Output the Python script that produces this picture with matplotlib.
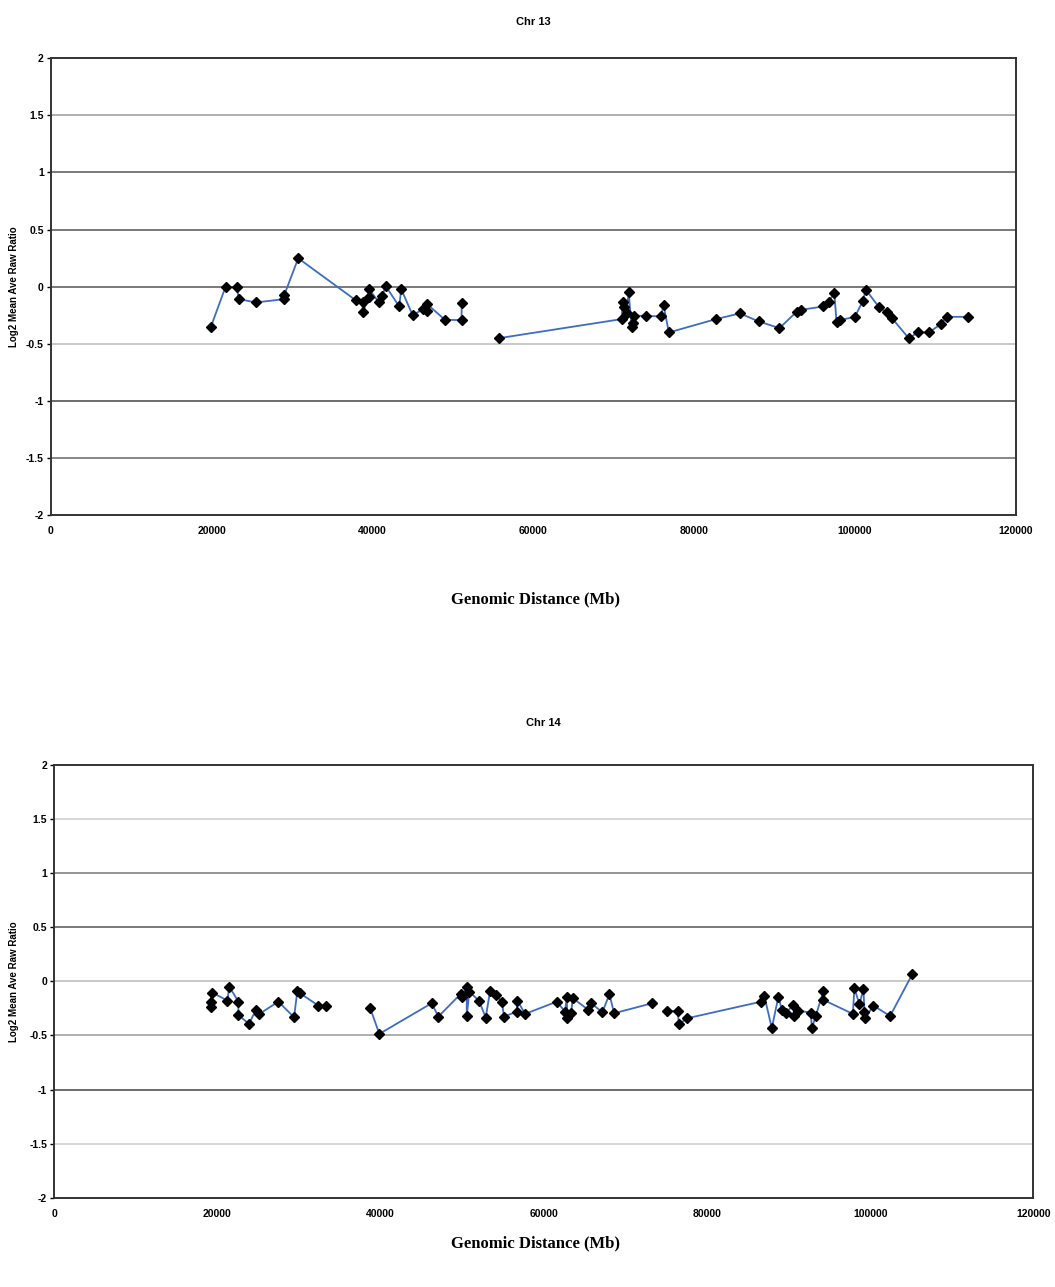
import numpy as np
import matplotlib
matplotlib.use("Agg")
import matplotlib.pyplot as plt

nan = np.nan

# Chr 13 (NaN marks a break in the line)
chr13_x = [19890, 21750, 23120, 23410, 25520, 29040, 29040, 30780, 37910, 38780,
           38780, 39600, 39600, 40810, 41220, 41640, 43330, 43580, 45000, 46310,
           46740, 46810, 49010, 51090, 51090, nan,
           55720, 70980, 71100, 71260, 71600, 71850, 72220, 72340, 72500, 73960,
           75860, 76190, 76850, 82710, 85680, 88010, 90600, 92730, 93270, 96040,
           96750, 97410, 97700, 98110, 99980, 100930, 101340, 102960, 103920, 104610,
           106690, 107770, 109170, 110660, 111370, 114060]
chr13_y = [-0.357, 0.0, -0.007, -0.109, -0.138, -0.109, -0.074, 0.249, -0.118, -0.133,
           -0.226, -0.089, -0.022, -0.138, -0.086, 0.007, -0.173, -0.022, -0.249, -0.197,
           -0.212, -0.153, -0.290, -0.293, -0.147, nan,
           -0.451, -0.284, -0.138, -0.182, -0.234, -0.045, -0.357, -0.319, -0.255, -0.255,
           -0.261, -0.162, -0.401, -0.284, -0.234, -0.304, -0.363, -0.220, -0.203, -0.173,
           -0.133, -0.051, -0.308, -0.293, -0.264, -0.129, -0.028, -0.177, -0.226, -0.278,
           -0.453, -0.401, -0.401, -0.328, -0.264, -0.264]

# Chr 14
chr14_x = [19200, 19200, 19400, 21240, 21480, 22590, 22590, 23900, 24720, 25160,
           27490, 29410, 29820, 30150, 32390, 33330, nan,
           38720, 39860, 46280, 47090, 49840, 49960, 50570, 50570, 50890, 52080,
           52900, 53430, 54170, 54860, 55150, 56700, 56780, 57720, 61600, 62620,
           62830, 62900, 63360, 63560, 65480, 65810, 67190, 68050, 68630, 73320, nan,
           75160, 76430, 76560, 77610, 86640, 87040, 87950, 88760, 89180, 89710,
           90520, 90720, 91140, 92730, 92860, 93350, 94280, 94280, 97880, 98070,
           98690, 99180, 99300, 99380, 100400, 102450, 105180]
chr14_y = [-0.239, -0.193, -0.104, -0.178, -0.049, -0.188, -0.311, -0.394, -0.264, -0.301,
           -0.188, -0.332, -0.086, -0.110, -0.225, -0.225, nan,
           -0.243, -0.486, -0.202, -0.326, -0.116, -0.147, -0.055, -0.320, -0.095, -0.181,
           -0.335, -0.089, -0.126, -0.188, -0.326, -0.280, -0.178, -0.301, -0.188, -0.280,
           -0.141, -0.341, -0.295, -0.156, -0.264, -0.202, -0.286, -0.119, -0.295, -0.202, nan,
           -0.274, -0.274, -0.396, -0.341, -0.188, -0.135, -0.433, -0.141, -0.264, -0.295,
           -0.218, -0.317, -0.271, -0.289, -0.433, -0.317, -0.086, -0.172, -0.301, -0.064,
           -0.212, -0.070, -0.280, -0.341, -0.225, -0.320, 0.068]

y_ticks = [2, 1.5, 1, 0.5, 0, -0.5, -1, -1.5, -2]
y_labels = ["2", "1.5", "1", "0.5", "0", "-0.5", "-1", "-1.5", "-2"]
x_ticks = [0, 20000, 40000, 60000, 80000, 100000, 120000]

fig = plt.figure(figsize=(10.55, 12.87), dpi=100)

panels = [
    ("Chr 13", chr13_x, chr13_y, [0.048, 0.5998, 0.915, 0.3549],
     ["#999999", "#555555", "#555555", "#555555", "#bbbbbb", "#444444", "#666666"],
     0.983, 0.534),
    ("Chr 14", chr14_x, chr14_y, [0.0512, 0.0694, 0.9283, 0.3362],
     ["#cccccc", "#777777", "#555555", "#bbbbbb", "#999999", "#444444", "#cccccc"],
     0.438, 0.034),
]

for title, xs, ys, rect, grid_cols, title_y, xlab_y in panels:
    ax = fig.add_axes(rect)
    for yv, c in zip([1.5, 1, 0.5, 0, -0.5, -1, -1.5], grid_cols):
        ax.axhline(yv, color=c, lw=1.1, zorder=1)
    ax.plot(xs, ys, color="#3d6cc0", lw=1.3, zorder=2)
    ax.plot(xs, ys, ls="none", marker="D", ms=5.2, color="black", zorder=3)
    ax.set_xlim(0, 120000)
    ax.set_ylim(-2, 2)
    ax.set_yticks(y_ticks)
    ax.set_yticklabels(y_labels, fontsize=7.5, fontweight="bold", family="Liberation Sans")
    ax.set_xticks(x_ticks)
    ax.set_xticklabels([str(t) for t in x_ticks], fontsize=7.5, fontweight="bold",
                       family="Liberation Sans")
    ax.tick_params(axis="y", length=3, width=1, pad=2)
    ax.tick_params(axis="x", length=0, pad=8)
    for s in ax.spines.values():
        s.set_color("#333333")
        s.set_linewidth(1.4)
    cx = rect[0] + rect[2] / 2
    fig.text(cx, title_y, title, ha="center", va="center", fontsize=8,
             fontweight="bold", family="Liberation Sans")
    fig.text(0.013, rect[1] + rect[3] / 2, "Log2 Mean Ave Raw Ratio", rotation=90,
             ha="center", va="center", fontsize=7, fontweight="bold", family="Liberation Sans")
    fig.text(0.508, xlab_y, "Genomic Distance (Mb)", ha="center", va="center",
             fontsize=12, fontweight="bold", family="Liberation Serif")

fig.savefig("out.png", dpi=100, facecolor="white")
